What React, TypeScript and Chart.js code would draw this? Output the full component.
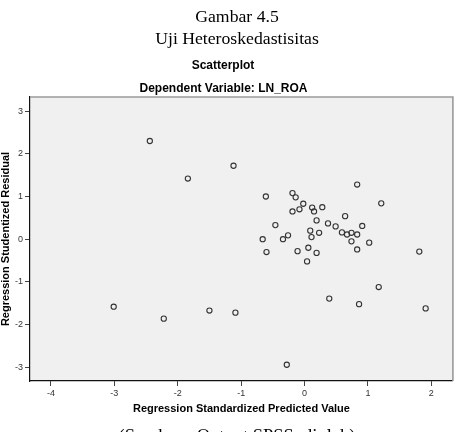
import React, { useEffect, useRef } from "react";
import { Chart, registerables } from "chart.js";

Chart.register(...registerables);

// Regression standardized predicted value (x) for each observation
const predictedValue = [
  -2.44, -1.84, -1.12, 0.83, -0.61, -0.19, -0.14, 1.21, -0.02, -0.19,
  -0.08, 0.12, 0.15, 0.28, 0.64, 0.19, -0.46, 0.37, 0.49, 0.91,
  0.09, 0.23, 0.59, 0.67, 0.74, 0.83, -0.66, -0.34, -0.26, 0.11,
  0.74, 1.02, -0.6, -0.11, 0.06, 0.19, 0.83, 1.81, 0.04, -3.01,
  -2.22, 1.17, 0.39, 0.86, -1.5, -1.09, 1.91, -0.28,
];

// Regression studentized residual (y) for each observation
const studentizedResidual = [
  2.3, 1.42, 1.72, 1.28, 1.0, 1.08, 0.98, 0.84, 0.83, 0.65,
  0.7, 0.74, 0.65, 0.75, 0.54, 0.44, 0.33, 0.37, 0.3, 0.31,
  0.2, 0.15, 0.16, 0.11, 0.15, 0.11, 0.0, 0.0, 0.09, 0.05,
  -0.05, -0.08, -0.3, -0.28, -0.2, -0.32, -0.24, -0.29, -0.52, -1.58,
  -1.86, -1.12, -1.39, -1.52, -1.67, -1.72, -1.62, -2.94,
];

const xTickValues = [-4, -3, -2, -1, 0, 1, 2];
const yTickValues = [-3, -2, -1, 0, 1, 2, 3];

const xRange = { min: -4.33, max: 2.34 };
const yRange = { min: -3.32, max: 3.33 };

const SANS = "'Liberation Sans', Arial, sans-serif";
const SERIF = "'Liberation Serif', 'Times New Roman', serif";

// Grey plot background plus the light frame on the top and right edges
const plotFrame = {
  id: "plotFrame",
  beforeDraw(chart: any) {
    const { ctx, chartArea } = chart;
    const { left, top, right, bottom } = chartArea;
    ctx.save();
    ctx.fillStyle = "#F0F0F0";
    ctx.fillRect(left, top, right - left, bottom - top);
    ctx.restore();
  },
  afterDraw(chart: any) {
    const { ctx, chartArea } = chart;
    const { left, top, right, bottom } = chartArea;
    ctx.save();
    ctx.strokeStyle = "#9A9A9A";
    ctx.lineWidth = 1.6;
    ctx.beginPath();
    ctx.moveTo(left, top);
    ctx.lineTo(right, top);
    ctx.lineTo(right, bottom);
    ctx.stroke();
    ctx.restore();
  },
};

function TextLine(props: {
  text: string;
  cx: number;
  top: number;
  size: number;
  family: string;
  bold?: boolean;
}) {
  return (
    <div
      style={{
        position: "absolute",
        left: props.cx,
        top: props.top,
        transform: "translateX(-50%)",
        whiteSpace: "nowrap",
        fontFamily: props.family,
        fontSize: props.size,
        lineHeight: `${props.size}px`,
        fontWeight: props.bold ? 700 : 400,
        color: "#000",
        pointerEvents: "none",
      }}
    >
      {props.text}
    </div>
  );
}

export default function App() {
  const canvasRef = useRef<HTMLCanvasElement | null>(null);

  useEffect(() => {
    const canvas = canvasRef.current;
    if (!canvas) return;
    const points = predictedValue.map((x, i) => ({ x, y: studentizedResidual[i] }));

    const chart = new Chart(canvas, {
      type: "scatter",
      data: {
        datasets: [
          {
            data: points,
            pointStyle: "circle",
            pointRadius: 2.6,
            pointBorderWidth: 1.1,
            pointBorderColor: "#333333",
            pointBackgroundColor: "rgba(0,0,0,0)",
          },
        ],
      },
      options: {
        responsive: false,
        animation: false,
        devicePixelRatio: 1,
        layout: { padding: { top: 97, right: 4, bottom: 11, left: 0 } },
        plugins: {
          legend: { display: false },
          tooltip: { enabled: false },
          title: { display: false },
        },
        scales: {
          x: {
            type: "linear",
            min: xRange.min,
            max: xRange.max,
            afterBuildTicks: (scale: any) => {
              scale.ticks = xTickValues.map((value) => ({ value }));
            },
            afterFit: (scale: any) => {
              scale.height = 40;
            },
            grid: {
              drawOnChartArea: false,
              drawTicks: true,
              tickLength: 5,
              tickColor: "#444",
              tickWidth: 1,
            },
            border: { display: true, color: "#111", width: 1.2 },
            ticks: {
              padding: 2,
              color: "#333",
              font: { family: SANS, size: 9 },
              maxRotation: 0,
              callback: (v: any) => String(v),
            },
            title: {
              display: true,
              text: "Regression Standardized Predicted Value",
              color: "#000",
              font: { family: SANS, size: 11, weight: "bold", lineHeight: 1 },
              padding: { top: 0, bottom: 6.5 },
            },
          },
          y: {
            type: "linear",
            min: yRange.min,
            max: yRange.max,
            afterBuildTicks: (scale: any) => {
              scale.ticks = yTickValues.map((value) => ({ value }));
            },
            afterFit: (scale: any) => {
              scale.width = 30;
            },
            grid: {
              drawOnChartArea: false,
              drawTicks: true,
              tickLength: 5,
              tickColor: "#444",
              tickWidth: 1,
            },
            border: { display: true, color: "#111", width: 1.2 },
            ticks: {
              padding: 2,
              color: "#333",
              font: { family: SANS, size: 9 },
              callback: (v: any) => String(v),
            },
            title: {
              display: true,
              text: "Regression Studentized Residual",
              color: "#000",
              font: { family: SANS, size: 11, weight: "bold", lineHeight: 1 },
              padding: { top: 0, bottom: 0 },
            },
          },
        },
      },
      plugins: [plotFrame],
    } as any);

    return () => {
      chart.destroy();
    };
  }, []);

  return (
    <div
      style={{
        position: "fixed",
        left: 0,
        top: 0,
        width: 458,
        height: 432,
        overflow: "hidden",
        background: "#fff",
      }}
    >
      <canvas
        ref={canvasRef}
        width={458}
        height={432}
        style={{ position: "absolute", left: 0, top: 0, width: 458, height: 432 }}
      />
      <TextLine text="Gambar 4.5" cx={237} top={8} size={17.7} family={SERIF} />
      <TextLine text="Uji Heteroskedastisitas" cx={237} top={29.5} size={17.7} family={SERIF} />
      <TextLine text="Scatterplot" cx={223} top={59} size={12} family={SANS} bold />
      <TextLine text="Dependent Variable: LN_ROA" cx={223.5} top={81.5} size={12} family={SANS} bold />
      <TextLine text="(Sumber : Output SPSS, diolah)" cx={237} top={426.5} size={18.5} family={SERIF} />
    </div>
  );
}
